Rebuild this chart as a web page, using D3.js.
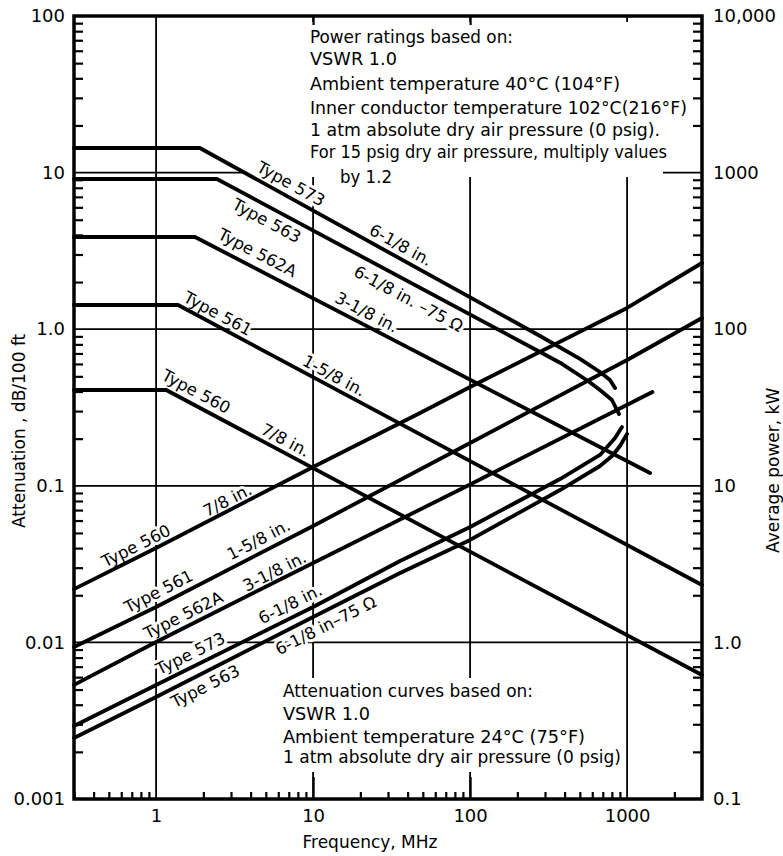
<!DOCTYPE html>
<html><head><meta charset="utf-8">
<script src="https://cdn.jsdelivr.net/npm/d3@7"></script>
<style>body{margin:0;background:#fff}</style>
</head><body>
<svg id="chart" width="783" height="856"></svg>
<script>
// ---------------- DATA ----------------
// Tick labels
const xTickValues = [1, 10, 100, 1000];
const xTickLabels = ["1", "10", "100", "1000"];
const yLeftTickValues = [0.001, 0.01, 0.1, 1, 10, 100];
const yLeftTickLabels = ["0.001", "0.01", "0.1", "1.0", "10", "100"];
const yRightTickValues = [0.1, 1, 10, 100, 1000, 10000];
const yRightTickLabels = ["0.1", "1.0", "10", "100", "1000", "10,000"];

// Attenuation (dB/100 ft) vs frequency (MHz) - rising curves
const att560Freq = [0.3, 1, 10, 48, 100, 1000, 3000];
const att560 = [0.0219, 0.0401, 0.1318, 0.2917, 0.4276, 1.366, 2.647];
const att561Freq = [0.3, 1, 10, 100, 1000, 3000];
const att561 = [0.00935, 0.01683, 0.0554, 0.1877, 0.636, 1.179];
const att562AFreq = [0.3, 1, 10, 100, 1450];
const att562A = [0.00535, 0.01006, 0.03214, 0.102, 0.397];
const att573Freq = [0.3, 1, 10, 35.8, 100, 374, 672, 838, 928];
const att573 = [0.002924, 0.00535, 0.01683, 0.0331, 0.0546, 0.1105, 0.1573, 0.2019, 0.2374];
const att563Freq = [0.3, 1, 10, 35.8, 100, 374, 672, 801, 901, 999];
const att563 = [0.002453, 0.00448, 0.01453, 0.02774, 0.0451, 0.094, 0.1338, 0.155, 0.1795, 0.2142];

// Average power rating (kW) vs frequency (MHz) - falling curves
const pow560Freq = [0.3, 1.16, 3000];
const pow560 = [40.9, 40.9, 0.619];
const pow561Freq = [0.3, 1.38, 3000];
const pow561 = [142.7, 142.7, 2.325];
const pow562AFreq = [0.3, 1.77, 1400];
const pow562A = [388, 388, 12.07];
const pow563Freq = [0.3, 2.44, 279, 374, 564, 672, 801, 888];
const pow563 = [910, 910, 71.5, 61.1, 46.7, 40.9, 35.3, 28.7];
const pow573Freq = [0.3, 1.9, 279, 501, 672, 778, 838];
const pow573 = [1436, 1436, 90.5, 64.6, 53.3, 47.4, 42.1];

// Text
const powerNotes = ["Power ratings based on:", "VSWR 1.0", "Ambient temperature 40°C (104°F)",
  "Inner conductor temperature 102°C(216°F)", "1 atm absolute dry air pressure (0 psig).",
  "For 15 psig dry air pressure, multiply values", "by 1.2"];
const attNotes = ["Attenuation curves based on:", "VSWR 1.0", "Ambient temperature 24°C (75°F)",
  "1 atm absolute dry air pressure (0 psig)"];
const xTitle = "Frequency, MHz";
const yLeftTitle = "Attenuation , dB/100 ft";
const yRightTitle = "Average power, kW";

// ---------------- LAYOUT ----------------
const FONT = "'DejaVu Sans', sans-serif";
const svg = d3.select("#chart");
const x = d3.scaleLog().domain([0.3, 3000]).range([74, 702]);
const yA = d3.scaleLog().domain([0.001, 100]).range([799, 16]);
const yP = d3.scaleLog().domain([0.1, 10000]).range([799, 16]);
const [L, R] = x.range();
const [B, T] = yA.range();
const isDecade = d => Math.abs(Math.log10(d) - Math.round(Math.log10(d))) < 1e-9;

// Gridlines
const grid = svg.append("g");
grid.selectAll("line.vg").data(xTickValues).join("line").attr("class", "vg")
  .attr("x1", d => x(d)).attr("x2", d => x(d)).attr("y1", T).attr("y2", B)
  .attr("stroke", "#000").attr("stroke-width", 1.8);
grid.selectAll("line.hg").data([0.01, 0.1, 1, 10]).join("line").attr("class", "hg")
  .attr("y1", d => yA(d)).attr("y2", d => yA(d)).attr("x1", L).attr("x2", R)
  .attr("stroke", "#000").attr("stroke-width", 1.8);

// White masks behind the note blocks (gridlines are broken there in the original)
const masks = [
  [300, 22, 360, 154],   // power note block
  [243, 169, 420, 8],    // gap in the 10 dB gridline
  [278, 678, 346, 94]    // attenuation note block
];
svg.append("g").selectAll("rect").data(masks).join("rect")
  .attr("x", d => d[0]).attr("y", d => d[1]).attr("width", d => d[2]).attr("height", d => d[3])
  .attr("fill", "#fff");

// Minor ticks (inside)
function styleTicks(g) { g.select(".domain").remove(); g.selectAll("line").attr("stroke", "#000").attr("stroke-width", 2.2); }
svg.append("g").attr("transform", `translate(${L},0)`)
  .call(d3.axisLeft(yA).tickValues(yA.ticks().filter(d => !isDecade(d))).tickSize(-9).tickFormat(""))
  .call(styleTicks);
svg.append("g").attr("transform", `translate(${R},0)`)
  .call(d3.axisRight(yP).tickValues(yP.ticks().filter(d => !isDecade(d))).tickSize(-9).tickFormat(""))
  .call(styleTicks);
svg.append("g").attr("transform", `translate(0,${B})`)
  .call(d3.axisBottom(x).tickValues(x.ticks().filter(d => !isDecade(d) && d < 3000)).tickSize(-7).tickFormat(""))
  .call(styleTicks);
// short decade stubs on top and bottom edges
svg.append("g").attr("transform", `translate(0,${T})`)
  .call(d3.axisTop(x).tickValues([10, 100]).tickSize(-9).tickFormat(""))
  .call(styleTicks);
svg.append("g").attr("transform", `translate(0,${B})`)
  .call(d3.axisBottom(x).tickValues([10, 100]).tickSize(-22).tickFormat(""))
  .call(styleTicks);

// Tick labels
function styleLabels(g) {
  g.select(".domain").remove();
  g.selectAll("text").attr("font-family", FONT).attr("font-size", 18).attr("fill", "#000");
}
svg.append("g").attr("transform", `translate(${L},0)`)
  .call(d3.axisLeft(yA).tickValues(yLeftTickValues).tickFormat((d, i) => yLeftTickLabels[i]).tickSize(0).tickPadding(9))
  .call(styleLabels);
svg.append("g").attr("transform", `translate(${R},0)`)
  .call(d3.axisRight(yP).tickValues(yRightTickValues).tickFormat((d, i) => yRightTickLabels[i]).tickSize(0).tickPadding(11))
  .call(styleLabels);
svg.append("g").attr("transform", `translate(0,${B})`)
  .call(d3.axisBottom(x).tickValues(xTickValues).tickFormat((d, i) => xTickLabels[i]).tickSize(0).tickPadding(10))
  .call(styleLabels);

// Axis titles
svg.append("text").attr("x", 370).attr("y", 848).attr("text-anchor", "middle")
  .attr("font-family", FONT).attr("font-size", 17).text(xTitle);
svg.append("text").attr("transform", "translate(25,528) rotate(-90)").attr("text-anchor", "start")
  .attr("font-family", FONT).attr("font-size", 17).text(yLeftTitle);
svg.append("text").attr("transform", "translate(779,553) rotate(-90)").attr("text-anchor", "start")
  .attr("font-family", FONT).attr("font-size", 17).text(yRightTitle);

// Halo text helper
function halo(sel) {
  return sel.attr("font-family", FONT).attr("fill", "#000")
    .attr("stroke", "#fff").attr("stroke-width", 6).attr("stroke-linejoin", "round")
    .attr("paint-order", "stroke");
}

// Note blocks
const powerNoteLayout = [[310, 43, 203], [310, 65, 87], [310, 90, 310], [310, 114, 377],
  [310, 136, 350], [310, 158, 357], [340, 183, 52]];
const attNoteLayout = [[283, 697, 250], [283, 720, 87], [283, 743, 302], [283, 763, 338]];
const notes = svg.append("g");
notes.selectAll("text.pn").data(powerNotes).join("text").attr("class", "pn")
  .attr("x", (d, i) => powerNoteLayout[i][0]).attr("y", (d, i) => powerNoteLayout[i][1])
  .attr("textLength", (d, i) => powerNoteLayout[i][2]).attr("lengthAdjust", "spacingAndGlyphs")
  .attr("font-size", 17.5).text(d => d).call(halo);
notes.selectAll("text.an").data(attNotes).join("text").attr("class", "an")
  .attr("x", (d, i) => attNoteLayout[i][0]).attr("y", (d, i) => attNoteLayout[i][1])
  .attr("textLength", (d, i) => attNoteLayout[i][2]).attr("lengthAdjust", "spacingAndGlyphs")
  .attr("font-size", 17.5).text(d => d).call(halo);

// Series
const series = [
  { F: att560Freq, V: att560, s: yA }, { F: att561Freq, V: att561, s: yA },
  { F: att562AFreq, V: att562A, s: yA }, { F: att573Freq, V: att573, s: yA },
  { F: att563Freq, V: att563, s: yA },
  { F: pow560Freq, V: pow560, s: yP }, { F: pow561Freq, V: pow561, s: yP },
  { F: pow562AFreq, V: pow562A, s: yP }, { F: pow563Freq, V: pow563, s: yP },
  { F: pow573Freq, V: pow573, s: yP }
];

// Curve labels: text, series index, frequency of anchor along curve, perpendicular offset (+ = above)
const curveLabels = [
  ["Type 573", 9, 6.6, 13], ["6-1/8 in.", 9, 33.2, 12.5],
  ["Type 563", 8, 5.55, -13], ["6-1/8 in. –75 Ω", 8, 45, -15],
  ["Type 562A", 7, 4.0, 15], ["3-1/8 in.", 7, 20.2, 12.5],
  ["Type 561", 6, 2.29, 11.5], ["1-5/8 in.", 6, 12.6, 11.5],
  ["Type 560", 5, 1.65, 13], ["7/8 in.", 5, 6.15, 12],
  ["Type 560", 0, 0.8, 11], ["7/8 in.", 0, 3.04, 10],
  ["Type 561", 1, 1.13, 13], ["1-5/8 in.", 1, 4.89, 13],
  ["Type 562A", 2, 1.61, 12], ["3-1/8 in.", 2, 6.06, 10],
  ["Type 573", 3, 1.8, 13], ["6-1/8 in.", 3, 7.76, 13],
  ["Type 563", 4, 1.89, -12.5], ["6-1/8 in–75 Ω", 4, 11, -13]
];
function onCurve(S, f) {
  const F = S.F, V = S.V;
  let i = 0;
  while (i < F.length - 2 && f > F[i + 1]) i++;
  const t = (Math.log(f) - Math.log(F[i])) / (Math.log(F[i + 1]) - Math.log(F[i]));
  const v = Math.exp(Math.log(V[i]) + t * (Math.log(V[i + 1]) - Math.log(V[i])));
  const ang = Math.atan2(S.s(V[i + 1]) - S.s(V[i]), x(F[i + 1]) - x(F[i]));
  return { px: x(f), py: S.s(v), ang };
}
svg.append("g").selectAll("text").data(curveLabels).join("text")
  .attr("transform", d => {
    const p = onCurve(series[d[1]], d[2]);
    const ux = Math.cos(p.ang), uy = Math.sin(p.ang);
    const cx = p.px + d[3] * uy, cy = p.py - d[3] * ux;
    return `translate(${cx},${cy}) rotate(${p.ang * 180 / Math.PI})`;
  })
  .attr("text-anchor", "middle").attr("dy", "0.36em").attr("font-size", 16.5)
  .text(d => d[0]).call(halo);

// Curves
const curves = svg.append("g");
series.forEach(S => {
  const pts = S.F.map((f, i) => [f, S.V[i]]);
  curves.append("path").datum(pts)
    .attr("d", d3.line().x(d => x(d[0])).y(d => S.s(d[1])))
    .attr("fill", "none").attr("stroke", "#000").attr("stroke-width", 3.8)
    .attr("stroke-linecap", "round").attr("stroke-linejoin", "round");
});

// Frame
svg.append("rect").attr("x", L).attr("y", T).attr("width", R - L).attr("height", B - T)
  .attr("fill", "none").attr("stroke", "#000").attr("stroke-width", 3.5);
</script>
</body></html>
